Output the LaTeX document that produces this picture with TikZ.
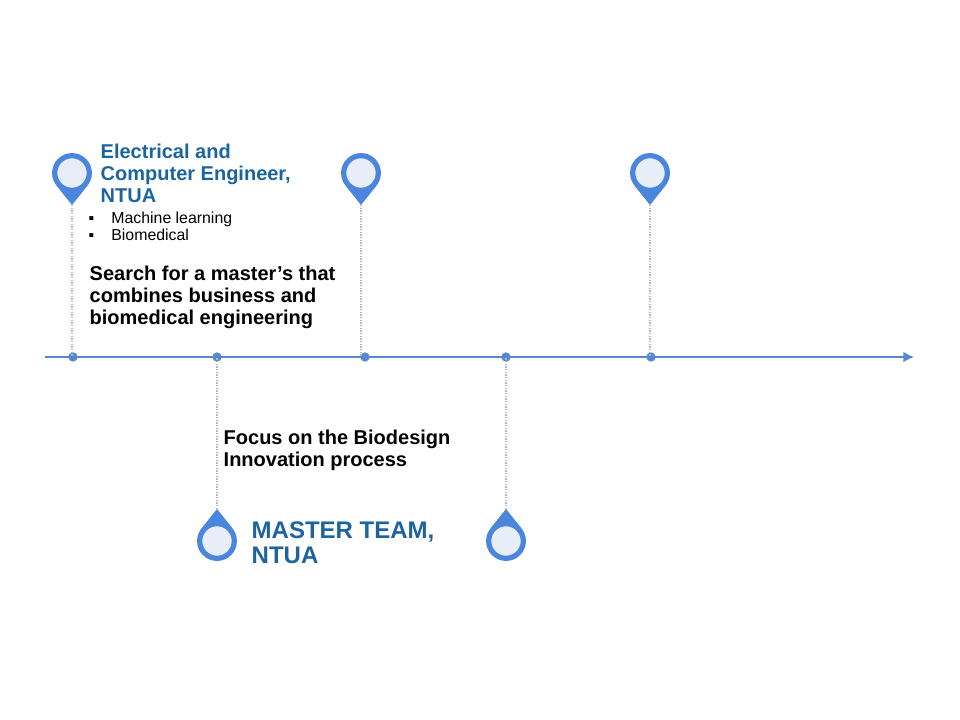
\documentclass[tikz,border=0pt]{standalone}
\usepackage{fontspec}
\usepackage{xcolor}
\setmainfont{Liberation Sans}
\usetikzlibrary{arrows.meta}
\definecolor{pin-color}{RGB}{74, 134, 222}
\definecolor{pin-fill}{RGB}{232, 238, 248}
\definecolor{axis-color}{RGB}{86, 136, 208}
\definecolor{title-color}{RGB}{28, 100, 160}
\definecolor{drop-color}{RGB}{175, 185, 205}
\tikzset{
    pinhead/.style={circle,draw=pin-color,fill=pin-fill,line width=3.9pt,minimum size=26pt,inner sep=0pt},
    axisdot/.style={circle,fill=axis-color,minimum size=7pt,inner sep=0pt},
    dropline/.style={densely dotted,draw=drop-color,line width=1pt},
    titletext/.style={anchor=north west,align=left,text=title-color,font=\bfseries\fontsize{15}{16.5}\selectfont},
    bodytext/.style={anchor=north west,align=left,text=black,font=\bfseries\fontsize{15}{16.5}\selectfont}
}
\begin{document}
\begin{tikzpicture}[x=0.75pt,y=-0.75pt]
\useasboundingbox (0,0) rectangle (960,720);
\coordinate (axisstart) at (45,357);
\coordinate (axisend) at (914,357);
\draw[axis-color,line width=1.2pt,-{Latex[length=8pt,width=8pt]}] (axisstart) -- (axisend);
% dots on the axis
\foreach \name/\x in {dotA/73,dotB/217,dotC/365,dotD/506,dotE/651}
    \node[axisdot] (\name) at (\x,357) {};
% pins above
\foreach \name/\x/\dotname in {pinA/72/dotA,pinC/361/dotC,pinE/650/dotE} {
    \coordinate (\name tip) at (\x,205);
    \draw[dropline] (\name tip) -- (\name tip |- \dotname);
    \fill[pin-color] (\x-15.6,185.5) -- (\name tip) -- (\x+15.6,185.5) -- cycle;
    \node[pinhead] (\name) at (\x,173) {};
}
% pins below
\foreach \name/\x/\dotname in {pinB/217/dotB,pinD/506/dotD} {
    \coordinate (\name tip) at (\x,509);
    \draw[dropline] (\name tip) -- (\name tip |- \dotname);
    \fill[pin-color] (\x-15.6,528.5) -- (\name tip) -- (\x+15.6,528.5) -- cycle;
    \node[pinhead] (\name) at (\x,541) {};
}
\node[titletext] (engineer) at (96,139.5) {Electrical and\\Computer Engineer,\\NTUA};
\node[anchor=north west,align=left,font=\fontsize{11.9}{13.2}\selectfont] (topics) at (84,207)
    {\makebox[17pt][l]{▪}Machine learning\\\makebox[17pt][l]{▪}Biomedical};
\node[bodytext] (search) at (85,261.5) {Search for a master’s that\\combines business and\\biomedical engineering};
\node[bodytext] (focus) at (219,425.5) {Focus on the Biodesign\\Innovation process};
\node[titletext,font=\bfseries\fontsize{18}{18.6}\selectfont] (team) at (247,517) {MASTER TEAM,\\NTUA};
\end{tikzpicture}
\end{document}
